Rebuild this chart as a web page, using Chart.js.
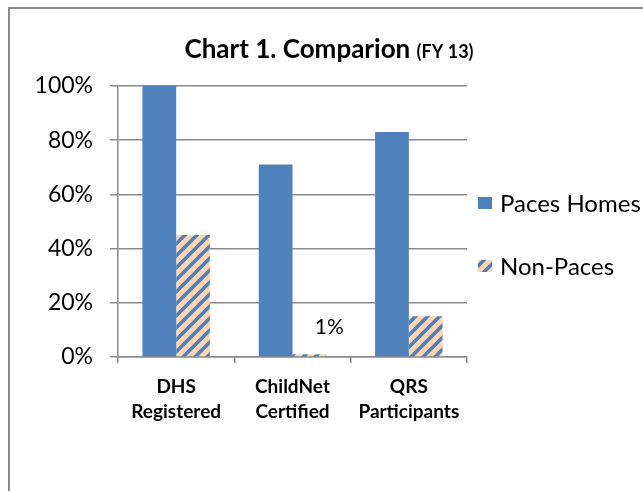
<!DOCTYPE html>
<html>
<head>
<meta charset="utf-8">
<script src="https://cdn.jsdelivr.net/npm/chart.js@4/dist/chart.umd.min.js"></script>
<style>
html,body{margin:0;padding:0;background:#fff;}
#wrap{width:643px;height:491px;position:relative;}
</style>
</head>
<body>
<div id="wrap"><canvas id="c" width="643" height="491"></canvas></div>
<script>
const categories = [['DHS', 'Registered'], ['ChildNet', 'Certified'], ['QRS', 'Participants']];
const seriesNames = ['Paces Homes', 'Non-Paces'];
const pacesHomes = [100, 71, 83];
const nonPaces = [45, 1, 15];
const nonPacesLabels = ['', '1%', ''];
const yTicks = [0, 20, 40, 60, 80, 100];
const titleMain = 'Chart 1. Comparion';
const titleSub = '(FY 13)';

const FONT = 'Lato, "Open Sans", sans-serif';
const BLUE = '#4f81bd';
const PEACH = '#fbd5b5';

function makeStripe() {
  const s = 12;
  const pc = document.createElement('canvas');
  pc.width = s; pc.height = s;
  const p = pc.getContext('2d');
  p.fillStyle = PEACH;
  p.fillRect(0, 0, s, s);
  p.strokeStyle = BLUE;
  p.lineWidth = 3.6;
  p.beginPath();
  for (let k = -1; k <= 1; k++) {
    p.moveTo(k * s - 1, s + 1);
    p.lineTo(k * s + s + 1, -1);
  }
  p.stroke();
  return document.getElementById('c').getContext('2d').createPattern(pc, 'repeat');
}
const stripe = makeStripe();

const frame = {
  id: 'frame',
  beforeDraw(chart) {
    const ctx = chart.ctx;
    ctx.save();
    ctx.fillStyle = '#fff';
    ctx.fillRect(0, 0, chart.width, chart.height);
    ctx.fillStyle = '#8a8a8a';
    ctx.fillRect(8, 7, chart.width, 2);
    ctx.fillRect(8, 7, 2, chart.height);
    ctx.restore();
  }
};

const titlePlugin = {
  id: 'titleDraw',
  afterDraw(chart) {
    const ctx = chart.ctx;
    ctx.save();
    ctx.fillStyle = '#000';
    ctx.textBaseline = 'alphabetic';
    const f1 = 'bold 26px ' + FONT;
    const f2 = 'bold 18px ' + FONT;
    ctx.font = f1;
    const w1 = ctx.measureText(titleMain + ' ').width;
    ctx.font = f2;
    const w2 = ctx.measureText(titleSub).width;
    const cx = 329;
    let x = cx - (w1 + w2) / 2;
    const y = 58;
    ctx.font = f1;
    ctx.textAlign = 'left';
    ctx.fillText(titleMain + ' ', x, y);
    ctx.font = f2;
    ctx.fillText(titleSub, x + w1, y);
    ctx.restore();
  }
};

const legendPlugin = {
  id: 'legendDraw',
  afterDraw(chart) {
    const ctx = chart.ctx;
    ctx.save();
    const rows = [203, 266];
    chart.data.datasets.forEach((ds, i) => {
      const y = rows[i];
      ctx.fillStyle = ds.backgroundColor;
      ctx.fillRect(478, y - 6, 14, 12);
      ctx.fillStyle = '#000';
      ctx.font = '24px ' + FONT;
      ctx.textBaseline = 'middle';
      ctx.textAlign = 'left';
      ctx.fillText(ds.label, 500, y + 1);
    });
    ctx.restore();
  }
};

const dataLabelPlugin = {
  id: 'pointLabels',
  afterDatasetsDraw(chart) {
    const ctx = chart.ctx;
    const meta = chart.getDatasetMeta(1);
    ctx.save();
    ctx.fillStyle = '#000';
    ctx.font = '21px ' + FONT;
    ctx.textAlign = 'center';
    ctx.textBaseline = 'middle';
    meta.data.forEach((bar, i) => {
      const t = nonPacesLabels[i];
      if (!t) return;
      ctx.fillText(t, bar.x + 20, bar.y - 27);
    });
    ctx.restore();
  }
};

new Chart(document.getElementById('c'), {
  type: 'bar',
  data: {
    labels: categories,
    datasets: [
      { label: seriesNames[0], data: pacesHomes, backgroundColor: BLUE, borderWidth: 0 },
      { label: seriesNames[1], data: nonPaces, backgroundColor: stripe, borderWidth: 0 }
    ]
  },
  options: {
    responsive: false,
    animation: false,
    devicePixelRatio: 1,
    categoryPercentage: 0.58,
    barPercentage: 1.0,
    layout: { padding: { left: 10, top: 86, right: 176, bottom: 10 } },
    plugins: {
      legend: { display: false },
      title: { display: false },
      tooltip: { enabled: false }
    },
    scales: {
      x: {
        grid: { drawOnChartArea: false, drawTicks: true, tickLength: 6, color: '#8a8a8a', lineWidth: 1.5, offset: true },
        border: { display: true, color: '#8a8a8a', width: 1.5 },
        ticks: { color: '#000', font: { family: FONT, size: 19, weight: 'bold', lineHeight: 1.316 }, padding: 11, maxRotation: 0 },
        afterFit(scale) { scale.height = 491 - 357 - 10; }
      },
      y: {
        min: 0, max: 100,
        afterBuildTicks(scale) { scale.ticks = yTicks.map(v => ({ value: v })); },
        grid: { color: '#8a8a8a', lineWidth: 1.5, drawTicks: true, tickLength: 8 },
        border: { display: true, color: '#8a8a8a', width: 1.5 },
        ticks: { color: '#000', font: { family: FONT, size: 23 }, padding: 17, callback: v => v + '%' },
        afterFit(scale) { scale.width = 118 - 10; }
      }
    }
  },
  plugins: [frame, titlePlugin, legendPlugin, dataLabelPlugin]
});
</script>
</body>
</html>
